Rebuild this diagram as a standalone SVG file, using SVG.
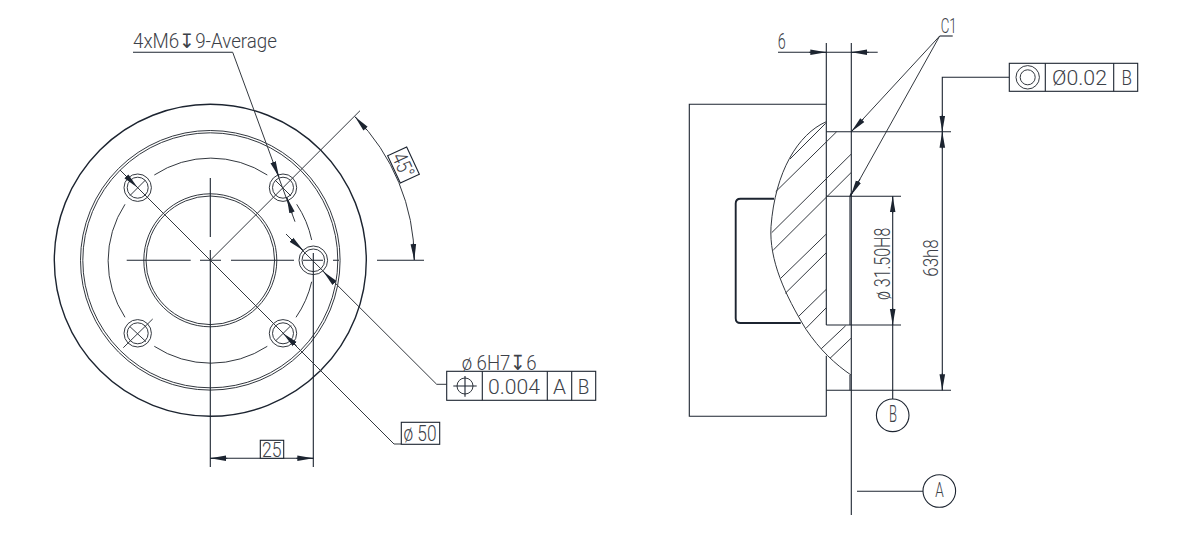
<svg xmlns="http://www.w3.org/2000/svg" width="1186" height="533" viewBox="0 0 1186 533">
<style>
.l{fill:none;stroke:#1c2430;stroke-width:1.1}
.g{fill:none;stroke:#33383f;stroke-width:1}
.h{fill:none;stroke:#1c2430;stroke-width:1.9}
.b{fill:#fff;stroke:#1c2430;stroke-width:1.1}
.a{fill:none;stroke:#1c2430;stroke-width:1;marker-end:url(#arw)}
text{font-family:Roboto,"Liberation Sans","DejaVu Sans",sans-serif;font-weight:300;fill:#3c4148;font-size:21px}
</style>
<defs>
<marker id="arw" markerUnits="userSpaceOnUse" markerWidth="18" markerHeight="8" refX="16" refY="4" orient="auto"><path d="M0,1.2 L16,4 L0,6.8Z" fill="#1c2430"/></marker>
</defs>
<rect width="1186" height="533" fill="#fff"/>
<g id="front-view">
<circle class="h" cx="210.3" cy="260.3" r="156" style="stroke-width:1.4"/>
<circle class="g" cx="210.3" cy="260.3" r="129.8"/>
<circle class="g" cx="210.3" cy="260.3" r="127.5"/>
<circle class="g" cx="210.3" cy="260.3" r="66.5"/>
<circle class="g" cx="210.3" cy="260.3" r="64.3"/>
<path class="g" d="M154.3,175A103,103 0 0 1 267.3,175M125,204.3A103,103 0 0 0 125,317.3M154.3,346.3A103,103 0 0 0 267.3,346.3M296.7,204.3A103,103 0 0 1 311.7,240M311.7,281.7A103,103 0 0 1 296,317.3"/>
<g id="holes">
<circle class="g" cx="137.7" cy="187.7" r="13.7"/><circle class="g" cx="137.7" cy="187.7" r="10.5"/>
<circle class="g" cx="283" cy="187.7" r="13.7"/><circle class="g" cx="283" cy="187.7" r="10.5"/>
<circle class="g" cx="137.7" cy="333.3" r="13.7"/><circle class="g" cx="137.7" cy="333.3" r="10.5"/>
<circle class="g" cx="283" cy="333.3" r="13.7"/><circle class="g" cx="283" cy="333.3" r="10.5"/>
<circle class="g" cx="313.3" cy="260.3" r="14.3"/><circle class="g" cx="313.3" cy="260.3" r="11.3"/>
<path class="g" d="M123.3,347.7L152.7,319M130,326.7L146,341.7M130,195.5L145.5,180M275,180L291,196M275.5,341L291,325.5"/>
</g>
</g>
<g id="connectors">
<path class="l" d="M126.7,260.3H190.7M200,260.3H221M231,260.3H294M303,260.3H323M333,260.3H339M377,260.3H424"/>
<path class="l" d="M210.3,178V237M210.3,250V467M313.3,253V467"/>
<path class="g" d="M210.3,260.3L360,110.7"/>
<path class="g" d="M120,170L394,444H401.3"/>
<path class="g" d="M286,234L436.7,384.3H446.7"/>
<path class="l" d="M133,52.3H232.7"/>
<path class="g" d="M232.7,52.3L295,221.7"/>
<path class="a" d="M125,175L137.7,187.7"/>
<path class="a" d="M296.7,346L283,333.3"/>
<path class="a" d="M291.7,240L303.3,250.5"/>
<path class="a" d="M333.3,281.7L323.3,271.5"/>
<path class="a" d="M273.3,162.7L279,177"/>
<path class="a" d="M292.3,213.3L286.8,197.3"/>
<path class="g" d="M355,116.7A204,204 0 0 1 414.3,260"/>
<path class="a" d="M366.7,130L355,116.7"/>
<path class="a" d="M413.3,243.3L414.3,260"/>
<path class="l" d="M210.3,458.3H313.3"/>
<path class="a" d="M227.3,458.3H210.3"/>
<path class="a" d="M296.3,458.3H313.3"/>
<path class="l" d="M826.3,43V325M826.3,355.7V416.3"/>
<path class="l" d="M851.3,43V515"/>
<path class="l" d="M778,52.3H877.7"/>
<path class="a" d="M809.3,52.3H826.3"/>
<path class="a" d="M868.7,52.3H851.3"/>
<path class="l" d="M939.7,36H952.7"/>
<path class="g" d="M939.7,36L851.3,131.7M939.7,36L850.7,195.7"/>
<path class="a" d="M863.3,119L851.3,131.7"/>
<path class="a" d="M860,179L850.7,195.7"/>
<path class="l" d="M826.3,131.7H951M826.3,196.3H901M826.3,325H901M826.3,390.3H951"/>
<path class="l" d="M1009.3,77.3H942.3V390.3"/>
<path class="a" d="M942.3,114.7V131.7"/>
<path class="a" d="M942.3,148.7V131.7"/>
<path class="a" d="M942.3,373.3V390.3"/>
<path class="l" d="M892.7,196.3V399"/>
<path class="a" d="M892.7,213.3V196.3"/>
<path class="a" d="M892.7,308V325"/>
<path class="l" d="M857,491.3H923"/>
</g>
<g id="section-view">
<path class="l" d="M826.3,104.3H689.3V416.3H826.3"/>
<path class="g" d="M826.3,121.7C798,134 775,172 771,226.7C769,260 785,295 806,329.3C820,350 835,364 851,375"/>
<path class="h" d="M774,198.7H740.5Q735.7,198.7 735.7,203.5V318.2Q735.7,323 740.5,323H800.7"/>
<path class="l" d="M850,196V325M850,375V390.3M850,196L851.3,193"/>
<path class="g" d="M790,159L825.7,123.3M775.7,191.7L836.7,131.7M771.7,232.7L851,154.3M773.3,250L851,172.7M780.7,278.3L826.3,234M785.3,293.3L826.3,252.7M798.3,316.7L826.3,289.3M806,328.3L826.3,307.7M821.3,348.7L845.7,325.7M830,358.3L851,338.3"/>
</g>
<g id="label-m6"><text x="133" y="48.3" style="font-size:20px" textLength="144" lengthAdjust="spacingAndGlyphs">4xM6↧9-Average</text></g>
<g id="label-45" transform="translate(403.5,165) rotate(65)">
<rect class="b" x="-15" y="-10.5" width="30" height="21"/>
<text x="-12.5" y="7.5" textLength="25" lengthAdjust="spacingAndGlyphs">45°</text>
</g>
<g id="label-25"><rect class="b" x="260.3" y="440.3" width="23.4" height="18"/><text x="262" y="456.5" textLength="19.5" lengthAdjust="spacingAndGlyphs">25</text></g>
<g id="label-6h7"><text x="461.7" y="370" textLength="75" lengthAdjust="spacingAndGlyphs">ø 6H7↧6</text></g>
<g id="fcf-position">
<rect class="b" x="446.7" y="371.3" width="149" height="29"/>
<path class="l" d="M482.3,371.3V400.3M547.3,371.3V400.3M571.7,371.3V400.3"/>
<circle class="g" cx="465" cy="386" r="8"/>
<path class="l" d="M453.3,386H476.7M465,376V396.7"/>
<text x="488" y="393.5" textLength="52" lengthAdjust="spacingAndGlyphs">0.004</text>
<text x="553" y="393.5" textLength="13" lengthAdjust="spacingAndGlyphs">A</text>
<text x="577.7" y="393.5" textLength="11.6" lengthAdjust="spacingAndGlyphs">B</text>
</g>
<g id="label-phi50"><rect class="b" x="401.3" y="422.3" width="38.4" height="22"/><text x="403.5" y="441" style="font-size:22px" textLength="33" lengthAdjust="spacingAndGlyphs">ø 50</text></g>
<g id="label-6"><text x="777.7" y="49" style="font-size:22px" textLength="8" lengthAdjust="spacingAndGlyphs">6</text></g>
<g id="label-c1"><text x="940.7" y="32.7" style="font-size:20px" textLength="16" lengthAdjust="spacingAndGlyphs">C1</text></g>
<g id="fcf-concentric">
<rect class="b" x="1009.3" y="63.3" width="128.4" height="28"/>
<path class="l" d="M1045.3,63.3V91.3M1113.7,63.3V91.3"/>
<circle class="g" cx="1027.7" cy="77.3" r="11.7"/>
<circle class="g" cx="1027.7" cy="77.3" r="7.5"/>
<text x="1052" y="85" textLength="55" lengthAdjust="spacingAndGlyphs">Ø0.02</text>
<text x="1121.5" y="85" textLength="10.5" lengthAdjust="spacingAndGlyphs">B</text>
</g>
<g id="label-315"><text transform="translate(890,300) rotate(-90)" style="font-size:22px" textLength="72.3" lengthAdjust="spacingAndGlyphs">ø 31.50H8</text></g>
<g id="label-63"><text transform="translate(938.3,276.7) rotate(-90)" textLength="37.4" lengthAdjust="spacingAndGlyphs">63h8</text></g>
<g id="datum-b"><circle class="b" cx="892.7" cy="415.3" r="16.3"/><text x="889" y="421.8" style="font-size:23px" textLength="8" lengthAdjust="spacingAndGlyphs">B</text></g>
<g id="datum-a"><circle class="b" cx="939.3" cy="491" r="16.3"/><text x="935.3" y="497" textLength="8.5" lengthAdjust="spacingAndGlyphs">A</text></g>
</svg>
